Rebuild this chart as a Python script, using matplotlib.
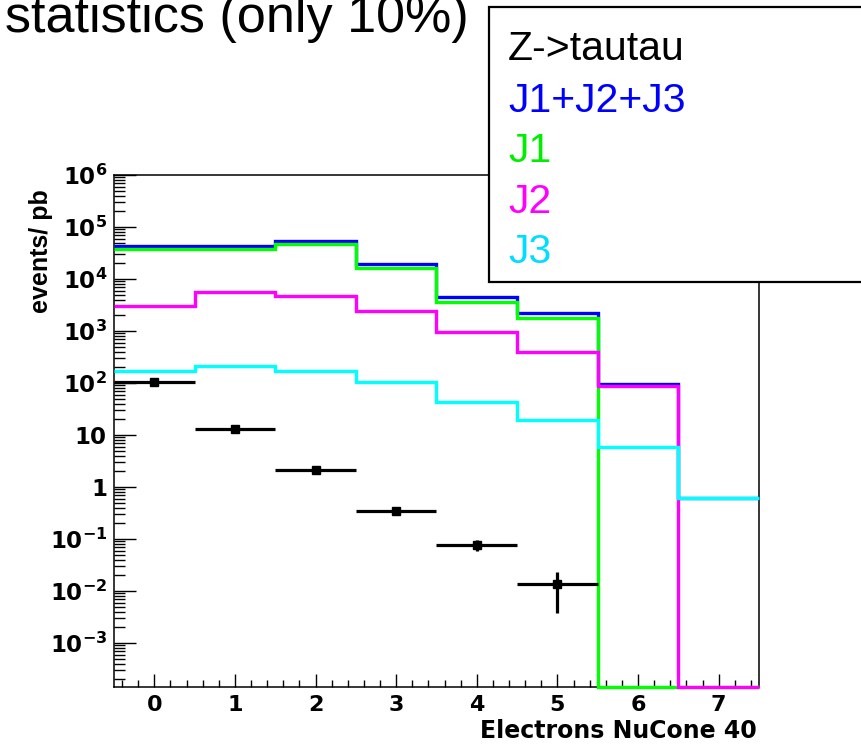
import numpy as np
import matplotlib
matplotlib.use("Agg")
import matplotlib.pyplot as plt
from matplotlib.ticker import FixedLocator, LogLocator, NullFormatter, MultipleLocator, FixedFormatter
from matplotlib.patches import Rectangle

plt.rcParams['mathtext.fontset'] = 'dejavusans'

# ---- data ----
bin_centers = [0, 1, 2, 3, 4, 5, 6, 7]
bin_edges = [-0.5, 0.5, 1.5, 2.5, 3.5, 4.5, 5.5, 6.5, 7.5]
j123 = [4.3e4, 4.3e4, 5.5e4, 1.95e4, 4.5e3, 2.2e3, 94, 0.62]
j1 = [3.7e4, 3.7e4, 4.7e4, 1.6e4, 3.6e3, 1.8e3, 0, 0]
j2 = [3.07e3, 5.7e3, 4.7e3, 2.45e3, 970, 400, 89, 0]
j3 = [170, 215, 170, 103, 44, 19.4, 6.0, 0.62]
ztt_x = [0, 1, 2, 3, 4, 5]
ztt = [105, 12.9, 2.15, 0.35, 0.077, 0.0136]
ztt_err = [4, 1.3, 0.3, 0.05, 0.018, 0.0098]

legend_labels = ["Z->tautau", "J1+J2+J3", "J1", "J2", "J3"]
legend_colors = ["black", "#0000ff", "#00ee00", "#ff00ff", "#00ddff"]

ymin, ymax = 10 ** (-3.846), 1e6
W, H = 862, 748

fig = plt.figure(figsize=(W / 100, H / 100), dpi=100)
ax = fig.add_axes([114 / W, 1 - 687 / H, 645 / W, 512 / H])
ax.set_yscale('log')
ax.set_xlim(-0.5, 7.5)
ax.set_ylim(ymin, ymax)

def clip(v):
    v = np.asarray(v, dtype=float)
    return np.where(v > 0, v, ymin)

lw = 2.4
for vals, col in [(j123, '#0000ff'), (j1, '#00ff00'), (j2, '#ff00ff'), (j3, '#00ffff')]:
    ax.stairs(clip(vals), bin_edges, baseline=None, color=col, lw=lw, clip_on=False, zorder=3)

ax.errorbar(ztt_x, ztt, xerr=0.5, yerr=ztt_err, fmt='s', color='black', ms=5.5,
            elinewidth=2.3, capsize=0, zorder=5)

# ticks
exps = list(range(-3, 7))
ax.yaxis.set_major_locator(FixedLocator([10.0 ** k for k in exps]))
labels = []
for k in exps:
    if k == 1:
        labels.append(r'$\mathbf{10}$')
    elif k == 0:
        labels.append(r'$\mathbf{1}$')
    else:
        labels.append(r'$\mathbf{10^{%d}}$' % k)
ax.yaxis.set_major_formatter(FixedFormatter(labels))
ax.yaxis.set_minor_locator(LogLocator(base=10, subs=np.arange(2, 10), numticks=30))
ax.yaxis.set_minor_formatter(NullFormatter())
ax.xaxis.set_major_locator(FixedLocator(bin_centers))
ax.xaxis.set_minor_locator(MultipleLocator(0.2))

ax.tick_params(axis='y', which='major', direction='in', length=15.5, width=1.0, labelsize=16.5, pad=5)
ax.tick_params(axis='y', which='minor', direction='in', length=8, width=1.0)
ax.tick_params(axis='x', which='major', direction='in', length=9.5, width=1.0, labelsize=16, pad=6)
ax.tick_params(axis='x', which='minor', direction='in', length=5, width=1.0)
for lab in ax.get_xticklabels():
    lab.set_fontweight('bold')
    lab.set_family('DejaVu Sans')
for s in ax.spines.values():
    s.set_linewidth(1.1)
    s.set_color('black')

# axis titles
fig.text(757 / W, 1 - 738 / H, 'Electrons NuCone 40', ha='right', va='baseline',
         fontsize=17, fontweight='bold', family='DejaVu Sans')
fig.text(41 / W, 1 - 189 / H, 'events/ pb', rotation=90, ha='center', va='top',
         fontsize=18, fontweight='bold', family='Liberation Sans')

# title
fig.text(5 / W, 1 - 32 / H, 'statistics (only 10%)', ha='left', va='baseline',
         fontsize=37.5, family='Liberation Sans')

# legend box
rect = Rectangle((489 / W, 1 - 282 / H), (W - 489 + 20) / W, (282 - 7) / H,
                 transform=fig.transFigure, facecolor='white', edgecolor='black',
                 lw=1.6, zorder=10, clip_on=False)
fig.add_artist(rect)
baselines = [60, 112, 162, 213, 263]
for lab, col, yb in zip(legend_labels, legend_colors, baselines):
    fig.text(508 / W, 1 - yb / H, lab, ha='left', va='baseline', color=col,
             fontsize=29.5, family='Liberation Sans', zorder=11)

fig.savefig('out.png', dpi=100)
